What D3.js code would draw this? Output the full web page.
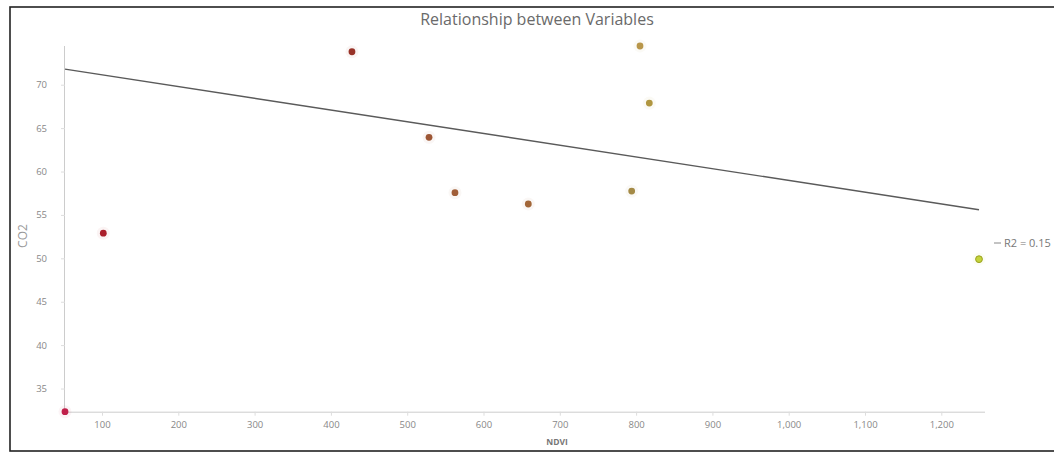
<!DOCTYPE html>
<html><head><meta charset="utf-8">
<script src="https://cdn.jsdelivr.net/npm/d3@7"></script>
<style>
html,body{margin:0;padding:0;background:#fff;}
svg{display:block;}
</style></head>
<body>
<svg id="chart" width="1054" height="457"></svg>
<script>
// Data
const ndvi = [51.5, 101.7, 427.6, 528.6, 562.6, 658.7, 794.2, 805.1, 817.3, 1249.4];
const co2  = [32.33, 52.9, 73.8, 63.94, 57.56, 56.26, 57.75, 74.46, 67.89, 49.9];
const pointColors = ["#c0204a","#aa1e2a","#983228","#9c5634","#a05e38","#a26638","#a48a46","#b8964a","#b09640","#c4d43a"];
const trendX = [51.5, 1249.4];
const trendY = [71.8, 55.6];
const xTicks = [100,200,300,400,500,600,700,800,900,1000,1100,1200];
const yTicks = [35,40,45,50,55,60,65,70];
const titleText = "Relationship between Variables";
const xTitle = "NDVI";
const yTitle = "CO2";
const legendText = "R2 = 0.15";

const svg = d3.select("#chart");
const font = "'Open Sans', 'Noto Sans', sans-serif";

// frame
svg.append("rect").attr("x",10).attr("y",7).attr("width",1060).attr("height",444)
  .attr("fill","none").attr("stroke","#222").attr("stroke-width",1.6);

const x = d3.scaleLinear().domain(d3.extent(ndvi)).range([65, 979]);
const y = d3.scaleLinear().domain(d3.extent(co2)).range([411.7, 46]);

// title
svg.append("text").attr("x",537).attr("y",25).attr("text-anchor","middle")
  .attr("font-family",font).attr("font-size",16).attr("fill","#6a6a6a").text(titleText);

// axes
const xAxis = svg.append("g").attr("transform","translate(0,411.7)")
  .call(d3.axisBottom(x).tickValues(xTicks).tickFormat(d3.format(",")).tickSize(4).tickPadding(6));
xAxis.select(".domain").attr("d","M65,0.5H985").attr("stroke","#ccc");
xAxis.selectAll(".tick line").attr("stroke","#ddd");
xAxis.selectAll("text").attr("font-family",font).attr("font-size",9.5).attr("fill","#888");

const yAxis = svg.append("g").attr("transform","translate(65,0)")
  .call(d3.axisLeft(y).tickValues(yTicks).tickSize(4).tickPadding(14));
yAxis.select(".domain").attr("d","M-0.5,46V411.7").attr("stroke","#ccc");
yAxis.selectAll(".tick line").attr("stroke","#ddd");
yAxis.selectAll("text").attr("font-family",font).attr("font-size",9.5).attr("fill","#888");

// axis titles
svg.append("text").attr("transform","translate(27,236) rotate(-90)").attr("text-anchor","middle")
  .attr("font-family",font).attr("font-size",12).attr("fill","#999").text(yTitle);
svg.append("text").attr("x",557).attr("y",445).attr("text-anchor","middle")
  .attr("font-family",font).attr("font-size",8.5).attr("font-weight","bold").attr("fill","#777").text(xTitle);

// trend line
const line = d3.line().x(d=>x(d[0])).y(d=>y(d[1]));
svg.append("path").datum(d3.zip(trendX, trendY)).attr("d",line)
  .attr("fill","none").attr("stroke","#5a5a5a").attr("stroke-width",1.4);

// points
const pts = d3.zip(ndvi, co2, pointColors);
svg.append("g").selectAll("circle.halo").data(pts).join("circle")
  .attr("cx",d=>x(d[0])).attr("cy",d=>y(d[1])).attr("r",6.5)
  .attr("fill",d=>d[2]).attr("opacity",0.05);
svg.append("g").selectAll("circle.pt").data(pts).join("circle")
  .attr("cx",d=>x(d[0])).attr("cy",d=>y(d[1])).attr("r",3.4)
  .attr("fill",d=>d[2]).attr("stroke",(d,i)=>i===pts.length-1?"#9aa020":"none").attr("stroke-width",1);

// legend
svg.append("line").attr("x1",994).attr("x2",1001).attr("y1",243).attr("y2",243)
  .attr("stroke","#888").attr("stroke-width",1);
svg.append("text").attr("x",1004).attr("y",246.5).attr("font-family",font)
  .attr("font-size",11).attr("fill","#777").text(legendText);
</script>
</body></html>
